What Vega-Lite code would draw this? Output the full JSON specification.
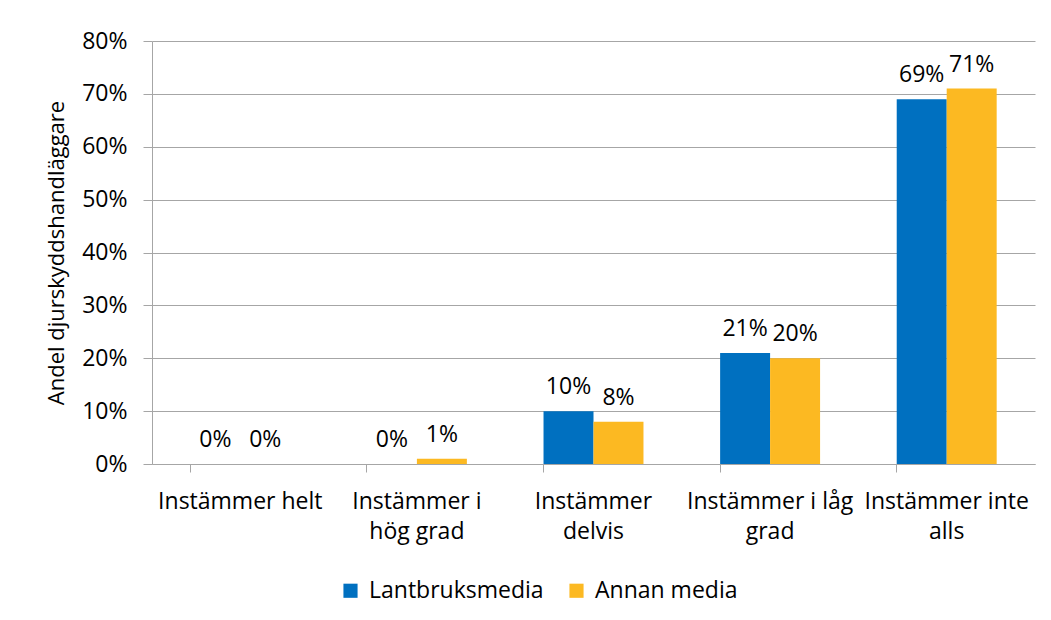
{
  "$schema": "https://vega.github.io/schema/vega-lite/v6.json",
  "width": 883,
  "height": 423,
  "autosize": {"type": "none"},
  "padding": {"left": 152, "top": 41, "right": 16, "bottom": 156},
  "background": "white",
  "config": {
    "font": "Open Sans",
    "view": {"stroke": null},
    "axis": {"labelFont": "Open Sans", "titleFont": "Open Sans", "labelColor": "#000000", "titleColor": "#000000"}
  },
  "data": {
    "values": [
      {"kategori": "Instämmer helt", "media": "Lantbruksmedia", "andel": 0},
      {"kategori": "Instämmer helt", "media": "Annan media", "andel": 0},
      {"kategori": "Instämmer i hög grad", "media": "Lantbruksmedia", "andel": 0},
      {"kategori": "Instämmer i hög grad", "media": "Annan media", "andel": 0.01},
      {"kategori": "Instämmer delvis", "media": "Lantbruksmedia", "andel": 0.10},
      {"kategori": "Instämmer delvis", "media": "Annan media", "andel": 0.08},
      {"kategori": "Instämmer i låg grad", "media": "Lantbruksmedia", "andel": 0.21},
      {"kategori": "Instämmer i låg grad", "media": "Annan media", "andel": 0.20},
      {"kategori": "Instämmer inte alls", "media": "Lantbruksmedia", "andel": 0.69},
      {"kategori": "Instämmer inte alls", "media": "Annan media", "andel": 0.71}
    ]
  },
  "encoding": {
    "x": {
      "field": "kategori",
      "type": "nominal",
      "sort": null,
      "scale": {"paddingInner": 0.434, "paddingOuter": 0.217},
      "axis": {
        "title": null,
        "labelAngle": 0,
        "labelFontSize": 23,
        "labelLineHeight": 30,
        "labelPadding": 18,
        "labelBaseline": "top",
        "labelLimit": 300,
        "labelExpr": "datum.value == 'Instämmer i hög grad' ? ['Instämmer i', 'hög grad'] : datum.value == 'Instämmer delvis' ? ['Instämmer', 'delvis'] : datum.value == 'Instämmer i låg grad' ? ['Instämmer i låg', 'grad'] : datum.value == 'Instämmer inte alls' ? ['Instämmer inte', 'alls'] : datum.value",
        "bandPosition": 0,
        "ticks": true,
        "tickSize": 8,
        "tickColor": "#a6a6a6",
        "domainColor": "#a6a6a6",
        "grid": false
      }
    },
    "xOffset": {"field": "media", "type": "nominal", "sort": ["Lantbruksmedia", "Annan media"], "scale": {"paddingInner": 0, "paddingOuter": 0}},
    "y": {
      "field": "andel",
      "type": "quantitative",
      "scale": {"domain": [0, 0.8], "nice": false},
      "axis": {
        "title": "Andel djurskyddshandläggare",
        "titleFontSize": 22,
        "titleFontWeight": "normal",
        "titlePadding": 13,
        "format": ".0%",
        "values": [0, 0.1, 0.2, 0.3, 0.4, 0.5, 0.6, 0.7, 0.8],
        "labelFontSize": 23,
        "labelPadding": 16,
        "tickSize": 9,
        "tickColor": "#a6a6a6",
        "domainColor": "#a6a6a6",
        "grid": true,
        "gridColor": "#a6a6a6",
        "gridWidth": 1
      }
    }
  },
  "layer": [
    {
      "mark": {"type": "bar"},
      "encoding": {
        "color": {
          "field": "media",
          "type": "nominal",
          "sort": ["Lantbruksmedia", "Annan media"],
          "scale": {"domain": ["Lantbruksmedia", "Annan media"], "range": ["#0070C0", "#FCB922"]},
          "legend": {
            "title": null,
            "orient": "none",
            "direction": "horizontal",
            "legendX": 187,
            "legendY": 538,
            "symbolType": "square",
            "symbolSize": 200,
            "symbolStrokeWidth": 0,
            "labelFontSize": 23,
            "labelFont": "Open Sans",
            "labelColor": "#000000",
            "labelLimit": 400,
            "labelOffset": 7,
            "columnPadding": 21,
            "padding": 0
          }
        }
      }
    },
    {
      "mark": {"type": "text", "baseline": "bottom", "dy": -12, "fontSize": 23, "color": "#000000"},
      "encoding": {
        "text": {"field": "andel", "type": "quantitative", "format": ".0%"}
      }
    }
  ]
}
